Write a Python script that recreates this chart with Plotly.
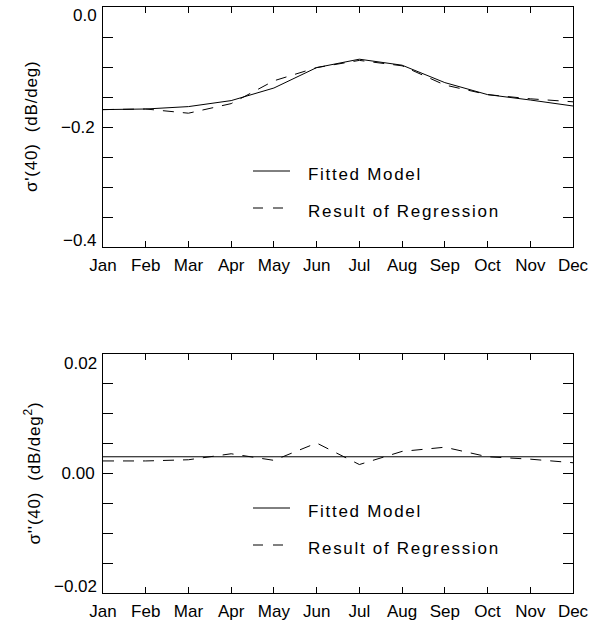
import plotly.graph_objects as go

months = ["Jan", "Feb", "Mar", "Apr", "May", "Jun", "Jul", "Aug", "Sep", "Oct", "Nov", "Dec"]

# Top panel: sigma'(40) (dB/deg)
fit1 = [-0.171, -0.170, -0.166, -0.156, -0.135, -0.101, -0.087, -0.097, -0.126, -0.146, -0.155, -0.165]
reg1 = [-0.171, -0.170, -0.177, -0.161, -0.123, -0.101, -0.089, -0.098, -0.130, -0.146, -0.153, -0.158]

# Bottom panel: sigma''(40) (dB/deg^2)
fit2 = [0.0028] * 12
reg2 = [0.0021, 0.0021, 0.0023, 0.0033, 0.0022, 0.0051, 0.0015, 0.0037, 0.0044, 0.0028, 0.0024, 0.0018]

y1_ticks = [-0.4, -0.35, -0.3, -0.25, -0.2, -0.15, -0.1, -0.05, 0.0]
y1_labels = {-0.4: "\u22120.4", -0.2: "\u22120.2", 0.0: "0.0"}
y2_ticks = [-0.02, -0.015, -0.01, -0.005, 0.0, 0.005, 0.01, 0.015, 0.02]
y2_labels = {-0.02: "\u22120.02", 0.0: "0.00", 0.02: "0.02"}

legend_labels = ["Fitted Model", "Result of Regression"]
ytitle1 = "\u03c3'(40)\u00a0\u00a0(dB/deg)"
ytitle2 = "\u03c3''(40)\u00a0\u00a0(dB/deg<sup>2</sup>)"

W, H = 590, 625
FONT = dict(family="Liberation Sans", size=17, color="black")
DASH = "11px,9px"


def spaced(t, px):
    return '<span style="letter-spacing:%spx">%s</span>' % (px, t)


fig = go.Figure()
fig.add_trace(go.Scatter(x=months, y=fit1, mode="lines", line=dict(color="black", width=1),
                         xaxis="x", yaxis="y", showlegend=False))
fig.add_trace(go.Scatter(x=months, y=reg1, mode="lines", line=dict(color="black", width=1, dash=DASH),
                         xaxis="x", yaxis="y", showlegend=False))
fig.add_trace(go.Scatter(x=months, y=fit2, mode="lines", line=dict(color="black", width=1),
                         xaxis="x2", yaxis="y2", showlegend=False))
fig.add_trace(go.Scatter(x=months, y=reg2, mode="lines", line=dict(color="black", width=1, dash=DASH),
                         xaxis="x2", yaxis="y2", showlegend=False))

xdom = [103 / W, 573 / W]
ydom1 = [(H - 247) / H, (H - 7) / H]
ydom2 = [(H - 593) / H, (H - 354) / H]

xcommon = dict(type="category", categoryorder="array", categoryarray=months, range=[0, 11],
               domain=xdom, showline=True, linecolor="black", linewidth=1, mirror="ticks",
               ticks="inside", ticklen=6, tickcolor="black", tickwidth=1, showgrid=False,
               zeroline=False, tickfont=FONT, ticklabelstandoff=3, automargin=False)
ycommon = dict(showline=True, linecolor="black", linewidth=1, mirror="ticks",
               ticks="inside", ticklen=10, tickcolor="black", tickwidth=1, showgrid=False,
               zeroline=False, tickfont=FONT, tickmode="array", ticklabelstandoff=4,
               automargin=False)


def middle_text(ticks, labels):
    lo, hi = min(ticks), max(ticks)
    return [labels[t] if (t in labels and t not in (lo, hi)) else " " for t in ticks]


fig.update_layout(
    width=W, height=H, margin=dict(l=0, r=0, t=0, b=0, autoexpand=False),
    paper_bgcolor="white", plot_bgcolor="white", font=FONT, showlegend=False,
    xaxis=dict(xcommon, anchor="y"),
    yaxis=dict(ycommon, domain=ydom1, range=[-0.4, 0.0], tickvals=y1_ticks,
               ticktext=middle_text(y1_ticks, y1_labels), anchor="x"),
    xaxis2=dict(xcommon, anchor="y2"),
    yaxis2=dict(ycommon, domain=ydom2, range=[-0.02, 0.02], tickvals=y2_ticks,
                ticktext=middle_text(y2_ticks, y2_labels), anchor="x2"),
)

# End tick labels, drawn slightly inside the axis ends (as in the reference)
for yref, ticks, labels in [("y", y1_ticks, y1_labels), ("y2", y2_ticks, y2_labels)]:
    lo, hi = min(ticks), max(ticks)
    fig.add_annotation(text=labels[hi], xref="paper", yref=yref, x=99 / W, y=hi, xanchor="right",
                       yanchor="middle", yshift=-9, showarrow=False, font=FONT)
    fig.add_annotation(text=labels[lo], xref="paper", yref=yref, x=99 / W, y=lo, xanchor="right",
                       yanchor="middle", yshift=7, showarrow=False, font=FONT)

# Y-axis titles
fig.add_annotation(text=spaced(ytitle1, 0.8), xref="paper", yref="y domain", x=32 / W, y=0.5,
                   textangle=-90, showarrow=False, font=FONT, xanchor="center", yanchor="middle")
fig.add_annotation(text=spaced(ytitle2, 0.8), xref="paper", yref="y2 domain", x=32 / W, y=0.5,
                   textangle=-90, showarrow=False, font=FONT, xanchor="center", yanchor="middle")

# In-plot legends (solid and dashed samples with labels)
pw = 573 - 103
for xr, yr, top, bot in [("x domain", "y domain", 7, 247), ("x2 domain", "y2 domain", 354, 593)]:
    ph = bot - top
    ys = [174, 211] if top == 7 else [511, 548]
    for i, yy in enumerate(ys):
        yfrac = (bot - yy) / ph
        ly = yfrac + (3 / ph)
        fig.add_shape(type="line", xref=xr, yref=yr, x0=(253 - 103) / pw, x1=(290 - 103) / pw,
                      y0=ly, y1=ly,
                      line=dict(color="black", width=1, dash=("solid" if i == 0 else "10px,10px")))
        fig.add_annotation(text=spaced(legend_labels[i], 1.7), xref=xr, yref=yr,
                           x=(306 - 103) / pw, y=yfrac,
                           xanchor="left", yanchor="middle", showarrow=False, font=FONT)

fig.write_html("out.html")
